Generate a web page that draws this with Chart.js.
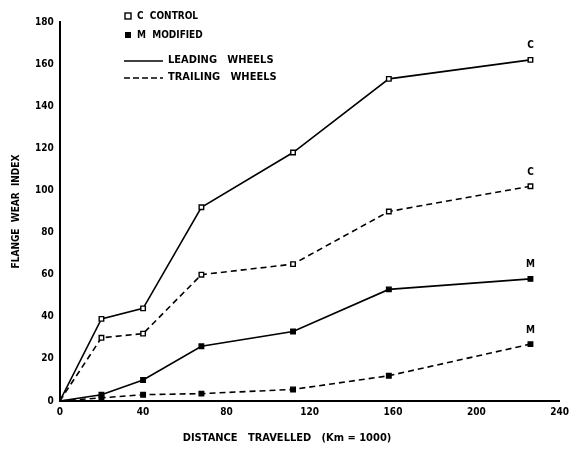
<!DOCTYPE html>
<html>
<head>
<meta charset="utf-8">
<script src="https://cdn.jsdelivr.net/npm/chart.js@4"></script>
<style>
  html, body { margin: 0; padding: 0; background: #fff; }
  #wrap { width: 571px; height: 450px; }
</style>
</head>
<body>
<div id="wrap"><canvas id="wear"></canvas></div>
<script>
// distance travelled (Km x 1000)
const distances = [0, 20, 40, 68, 112, 158, 226];

// flange wear index
const controlLeading = [0, 39, 44, 92, 118, 153, 162];
const controlTrailing = [0, 30, 32, 60, 65, 90, 102];
const modifiedLeading = [0, 3, 10, 26, 33, 53, 58];
const modifiedTrailing = [0, 1.5, 3, 3.5, 5.5, 12, 27];

const yTicks = [0, 20, 40, 60, 80, 100, 120, 140, 160, 180];
const xTicks = [0, 40, 80, 120, 160, 200, 240];

const FONT = '"DejaVu Sans Condensed", "DejaVu Sans", sans-serif';

function points(values) {
    return distances.map((d, i) => ({ x: d, y: values[i] }));
}

function series(label, values, filled, dashed, endTag) {
    return {
        label: label,
        data: points(values),
        borderColor: '#000',
        borderWidth: 1.6,
        borderDash: dashed ? [6, 4] : [],
        pointStyle: 'rect',
        pointRadius: values.map((v, i) => i === 0 ? 0 : 3.2),
        pointBackgroundColor: filled ? '#000' : '#fff',
        pointBorderColor: '#000',
        pointBorderWidth: 1.4,
        tension: 0,
        endTag: endTag
    };
}

// draws the hand lettered key, the x title and the C / M tags at the line ends
const annotations = {
    id: 'annotations',
    afterDatasetsDraw(chart) {
        const ctx = chart.ctx;
        ctx.save();
        ctx.fillStyle = '#000';
        ctx.strokeStyle = '#000';
        ctx.font = 'bold 10px ' + FONT;
        ctx.textBaseline = 'middle';

        // key
        ctx.lineWidth = 1.4;
        ctx.fillStyle = '#fff';
        ctx.fillRect(125, 13, 6, 6);
        ctx.strokeRect(125, 13, 6, 6);
        ctx.fillStyle = '#000';
        ctx.fillText('C  CONTROL', 137, 16);
        ctx.fillRect(125, 32, 6, 6);
        ctx.fillText('M  MODIFIED', 137, 35);

        ctx.font = 'bold 11px ' + FONT;
        ctx.lineWidth = 1.4;
        ctx.beginPath();
        ctx.moveTo(124, 61); ctx.lineTo(163, 61);
        ctx.stroke();
        ctx.fillText('LEADING   WHEELS', 168, 60);
        ctx.setLineDash([6, 3]);
        ctx.beginPath();
        ctx.moveTo(124, 78); ctx.lineTo(163, 78);
        ctx.stroke();
        ctx.setLineDash([]);
        ctx.fillText('TRAILING   WHEELS', 168, 77);

        // x axis title, set a little left of centre as in the original
        ctx.textAlign = 'center';
        ctx.fillText('DISTANCE   TRAVELLED   (Km = 1000)', 287, 438);

        // end tags
        ctx.font = 'bold 10px ' + FONT;
        ctx.textBaseline = 'bottom';
        chart.data.datasets.forEach((ds, i) => {
            const el = chart.getDatasetMeta(i).data[ds.data.length - 1];
            ctx.fillText(ds.endTag, el.x, el.y - 9);
        });
        ctx.restore();
    }
};

new Chart(document.getElementById('wear').getContext('2d'), {
    type: 'line',
    data: {
        datasets: [
            series('C Leading', controlLeading, false, false, 'C'),
            series('C Trailing', controlTrailing, false, true, 'C'),
            series('M Leading', modifiedLeading, true, false, 'M'),
            series('M Trailing', modifiedTrailing, true, true, 'M')
        ]
    },
    options: {
        responsive: true,
        maintainAspectRatio: false,
        animation: false,
        layout: { padding: { top: 22, right: 2, left: 10, bottom: 30 } },
        plugins: {
            legend: { display: false },
            tooltip: { enabled: false }
        },
        scales: {
            x: {
                type: 'linear',
                min: 0,
                max: 240,
                afterBuildTicks: (axis) => { axis.ticks = xTicks.map(v => ({ value: v })); },
                grid: { display: false, drawTicks: true, tickLength: 3, color: '#000' },
                border: { color: '#000', width: 2 },
                ticks: {
                    color: '#000',
                    font: { family: FONT, size: 10, weight: 'bold' },
                    padding: 2,
                    maxRotation: 0
                }
            },
            y: {
                min: 0,
                max: 180,
                afterBuildTicks: (axis) => {
                    const t = [];
                    for (let v = 0; v <= 180; v += 10) t.push({ value: v });
                    axis.ticks = t;
                },
                grid: { display: false, drawTicks: true, tickLength: 3, color: '#000' },
                border: { color: '#000', width: 2 },
                ticks: {
                    color: '#000',
                    font: { family: FONT, size: 10, weight: 'bold' },
                    padding: 3,
                    callback: (v) => yTicks.includes(v) ? String(v) : ''
                },
                title: {
                    display: true,
                    text: 'FLANGE  WEAR  INDEX',
                    color: '#000',
                    font: { family: FONT, size: 10, weight: 'bold' },
                    padding: { top: 0, bottom: 10 }
                }
            }
        }
    },
    plugins: [annotations]
});
</script>
</body>
</html>
